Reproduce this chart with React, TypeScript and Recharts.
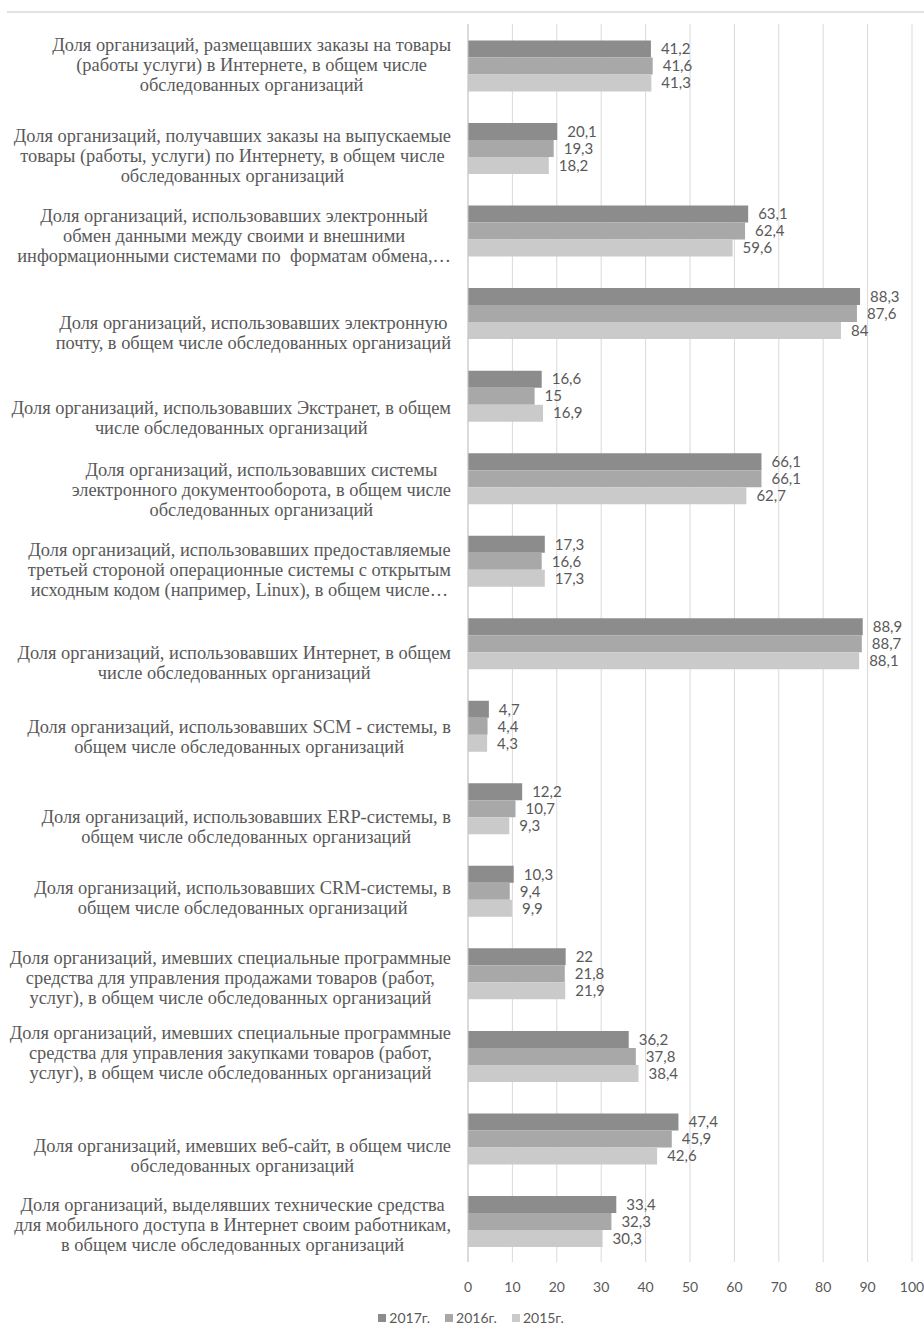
import React from "react";
import {
  BarChart,
  Bar,
  XAxis,
  YAxis,
  CartesianGrid,
  Legend,
  LabelList,
} from "recharts";

// Category captions, already split into the lines they are printed on
const CATEGORY_LINES: string[][] = [
  [
    "Доля организаций, размещавших заказы на товары",
    "(работы услуги) в Интернете, в общем числе",
    "обследованных организаций",
  ],
  [
    "Доля организаций, получавших заказы на выпускаемые",
    "товары (работы, услуги) по Интернету, в общем числе",
    "обследованных организаций",
  ],
  [
    "Доля организаций, использовавших электронный",
    "обмен данными между своими и внешними",
    "информационными системами по  форматам обмена,…",
  ],
  [
    "Доля организаций, использовавших электронную",
    "почту, в общем числе обследованных организаций",
  ],
  [
    "Доля организаций, использовавших Экстранет, в общем",
    "числе обследованных организаций",
  ],
  [
    "Доля организаций, использовавших системы",
    "электронного документооборота, в общем числе",
    "обследованных организаций",
  ],
  [
    "Доля организаций, использовавших предоставляемые",
    "третьей стороной операционные системы с открытым",
    "исходным кодом (например, Linux), в общем числе…",
  ],
  [
    "Доля организаций, использовавших Интернет, в общем",
    "числе обследованных организаций",
  ],
  [
    "Доля организаций, использовавших SCM - системы, в",
    "общем числе обследованных организаций",
  ],
  [
    "Доля организаций, использовавших ERP-системы, в",
    "общем числе обследованных организаций",
  ],
  [
    "Доля организаций, использовавших CRM-системы, в",
    "общем числе обследованных организаций",
  ],
  [
    "Доля организаций, имевших специальные программные",
    "средства для управления продажами товаров (работ,",
    "услуг), в общем числе обследованных организаций",
  ],
  [
    "Доля организаций, имевших специальные программные",
    "средства для управления закупками товаров (работ,",
    "услуг), в общем числе обследованных организаций",
  ],
  [
    "Доля организаций, имевших веб-сайт, в общем числе",
    "обследованных организаций",
  ],
  [
    "Доля организаций, выделявших технические средства",
    "для мобильного доступа в Интернет своим работникам,",
    "в общем числе обследованных организаций",
  ],
];

// Shares of organisations, %
const VALUES_2017 = [41.2, 20.1, 63.1, 88.3, 16.6, 66.1, 17.3, 88.9, 4.7, 12.2, 10.3, 22, 36.2, 47.4, 33.4];
const VALUES_2016 = [41.6, 19.3, 62.4, 87.6, 15, 66.1, 16.6, 88.7, 4.4, 10.7, 9.4, 21.8, 37.8, 45.9, 32.3];
const VALUES_2015 = [41.3, 18.2, 59.6, 84, 16.9, 62.7, 17.3, 88.1, 4.3, 9.3, 9.9, 21.9, 38.4, 42.6, 30.3];

const SERIES = [
  { key: "y2017", name: "2017г.", color: "#8c8c8c" },
  { key: "y2016", name: "2016г.", color: "#a8a8a8" },
  { key: "y2015", name: "2015г.", color: "#cacaca" },
];

const X_TICKS = [0, 10, 20, 30, 40, 50, 60, 70, 80, 90, 100];

// Vertical nudge (px) of each wrapped caption relative to its category centre
const CAPTION_SHIFT = [0, 8, 6, 20, 23, 12, 10, 20, 11, 19, 7, 5, -3, 18, 4];

const rows = CATEGORY_LINES.map((lines, i) => ({
  name: lines.join(" "),
  y2017: VALUES_2017[i],
  y2016: VALUES_2016[i],
  y2015: VALUES_2015[i],
}));

const TEXT_COLOR = "#595959";
const SERIF = '"Liberation Serif", "Times New Roman", serif';
const SANS = 'Lato, "Open Sans", sans-serif';
const CAPTION_SIZE = 18.4;
const LINE_HEIGHT = 20;
const CAPTION_RIGHT = 451;

let measureCtx: CanvasRenderingContext2D | null = null;
function textWidth(s: string): number {
  if (!measureCtx) {
    measureCtx = document.createElement("canvas").getContext("2d");
  }
  if (!measureCtx) return s.length * 8;
  measureCtx.font = `${CAPTION_SIZE}px ${SERIF}`;
  return measureCtx.measureText(s).width;
}

// Wrapped caption: lines centred within a block whose right edge is fixed
function CategoryTick(props: any) {
  const { y, index } = props;
  const lines = CATEGORY_LINES[index] || [];
  const blockWidth = Math.max(...lines.map(textWidth));
  const cx = CAPTION_RIGHT - blockWidth / 2;
  const n = lines.length;
  const mid = y + (CAPTION_SHIFT[index] || 0);
  return (
    <g>
      {lines.map((line, i) => (
        <text
          key={i}
          x={cx}
          y={mid + (i - (n - 1) / 2) * LINE_HEIGHT}
          textAnchor="middle"
          dominantBaseline="central"
          fill={TEXT_COLOR}
          style={{ whiteSpace: "pre", fontFamily: SERIF, fontSize: CAPTION_SIZE }}
        >
          {line}
        </text>
      ))}
    </g>
  );
}

const formatValue = (v: any) => String(v).replace(".", ",");

function LegendContent() {
  return (
    <div
      style={{
        display: "flex",
        justifyContent: "center",
        gap: 15,
        fontFamily: SANS,
        fontSize: 14,
        color: TEXT_COLOR,
        paddingLeft: 30,
        paddingTop: 7,
      }}
    >
      {SERIES.map((s) => (
        <div key={s.key} style={{ display: "flex", alignItems: "center" }}>
          <span
            style={{
              display: "inline-block",
              width: 8,
              height: 8,
              background: s.color,
              marginRight: 3,
            }}
          />
          <span>{s.name}</span>
        </div>
      ))}
    </div>
  );
}

export default function App() {
  return (
    <div style={{ position: "absolute", left: 0, top: 0, width: 924, height: 1344, background: "#fff" }}>
      <div
        style={{
          position: "absolute",
          left: 7,
          top: 11,
          width: 917,
          height: 2,
          background: "#e2e2e2",
        }}
      />
      <BarChart
        layout="vertical"
        width={924}
        height={1344}
        data={rows}
        margin={{ top: 24, right: 12, bottom: 12, left: 0 }}
        barCategoryGap="20%"
        barGap={0}
      >
        <CartesianGrid horizontal={false} stroke="#d9d9d9" />
        <XAxis
          type="number"
          domain={[0, 100]}
          ticks={X_TICKS}
          interval={0}
          axisLine={false}
          tickLine={false}
          tickMargin={14}
          height={40}
          tick={{ fill: TEXT_COLOR, fontFamily: SANS, fontSize: 14 }}
        />
        <YAxis
          type="category"
          dataKey="name"
          width={468}
          interval={0}
          axisLine={{ stroke: "#c8c8c8" }}
          tickLine={false}
          tick={<CategoryTick />}
        />
        {SERIES.map((s) => (
          <Bar key={s.key} dataKey={s.key} name={s.name} fill={s.color} isAnimationActive={false}>
            <LabelList
              dataKey={s.key}
              position="right"
              offset={10}
              formatter={formatValue}
              fill={TEXT_COLOR}
              fontFamily={SANS}
              fontSize={15}
            />
          </Bar>
        ))}
        <Legend verticalAlign="bottom" height={30} content={<LegendContent />} />
      </BarChart>
    </div>
  );
}
